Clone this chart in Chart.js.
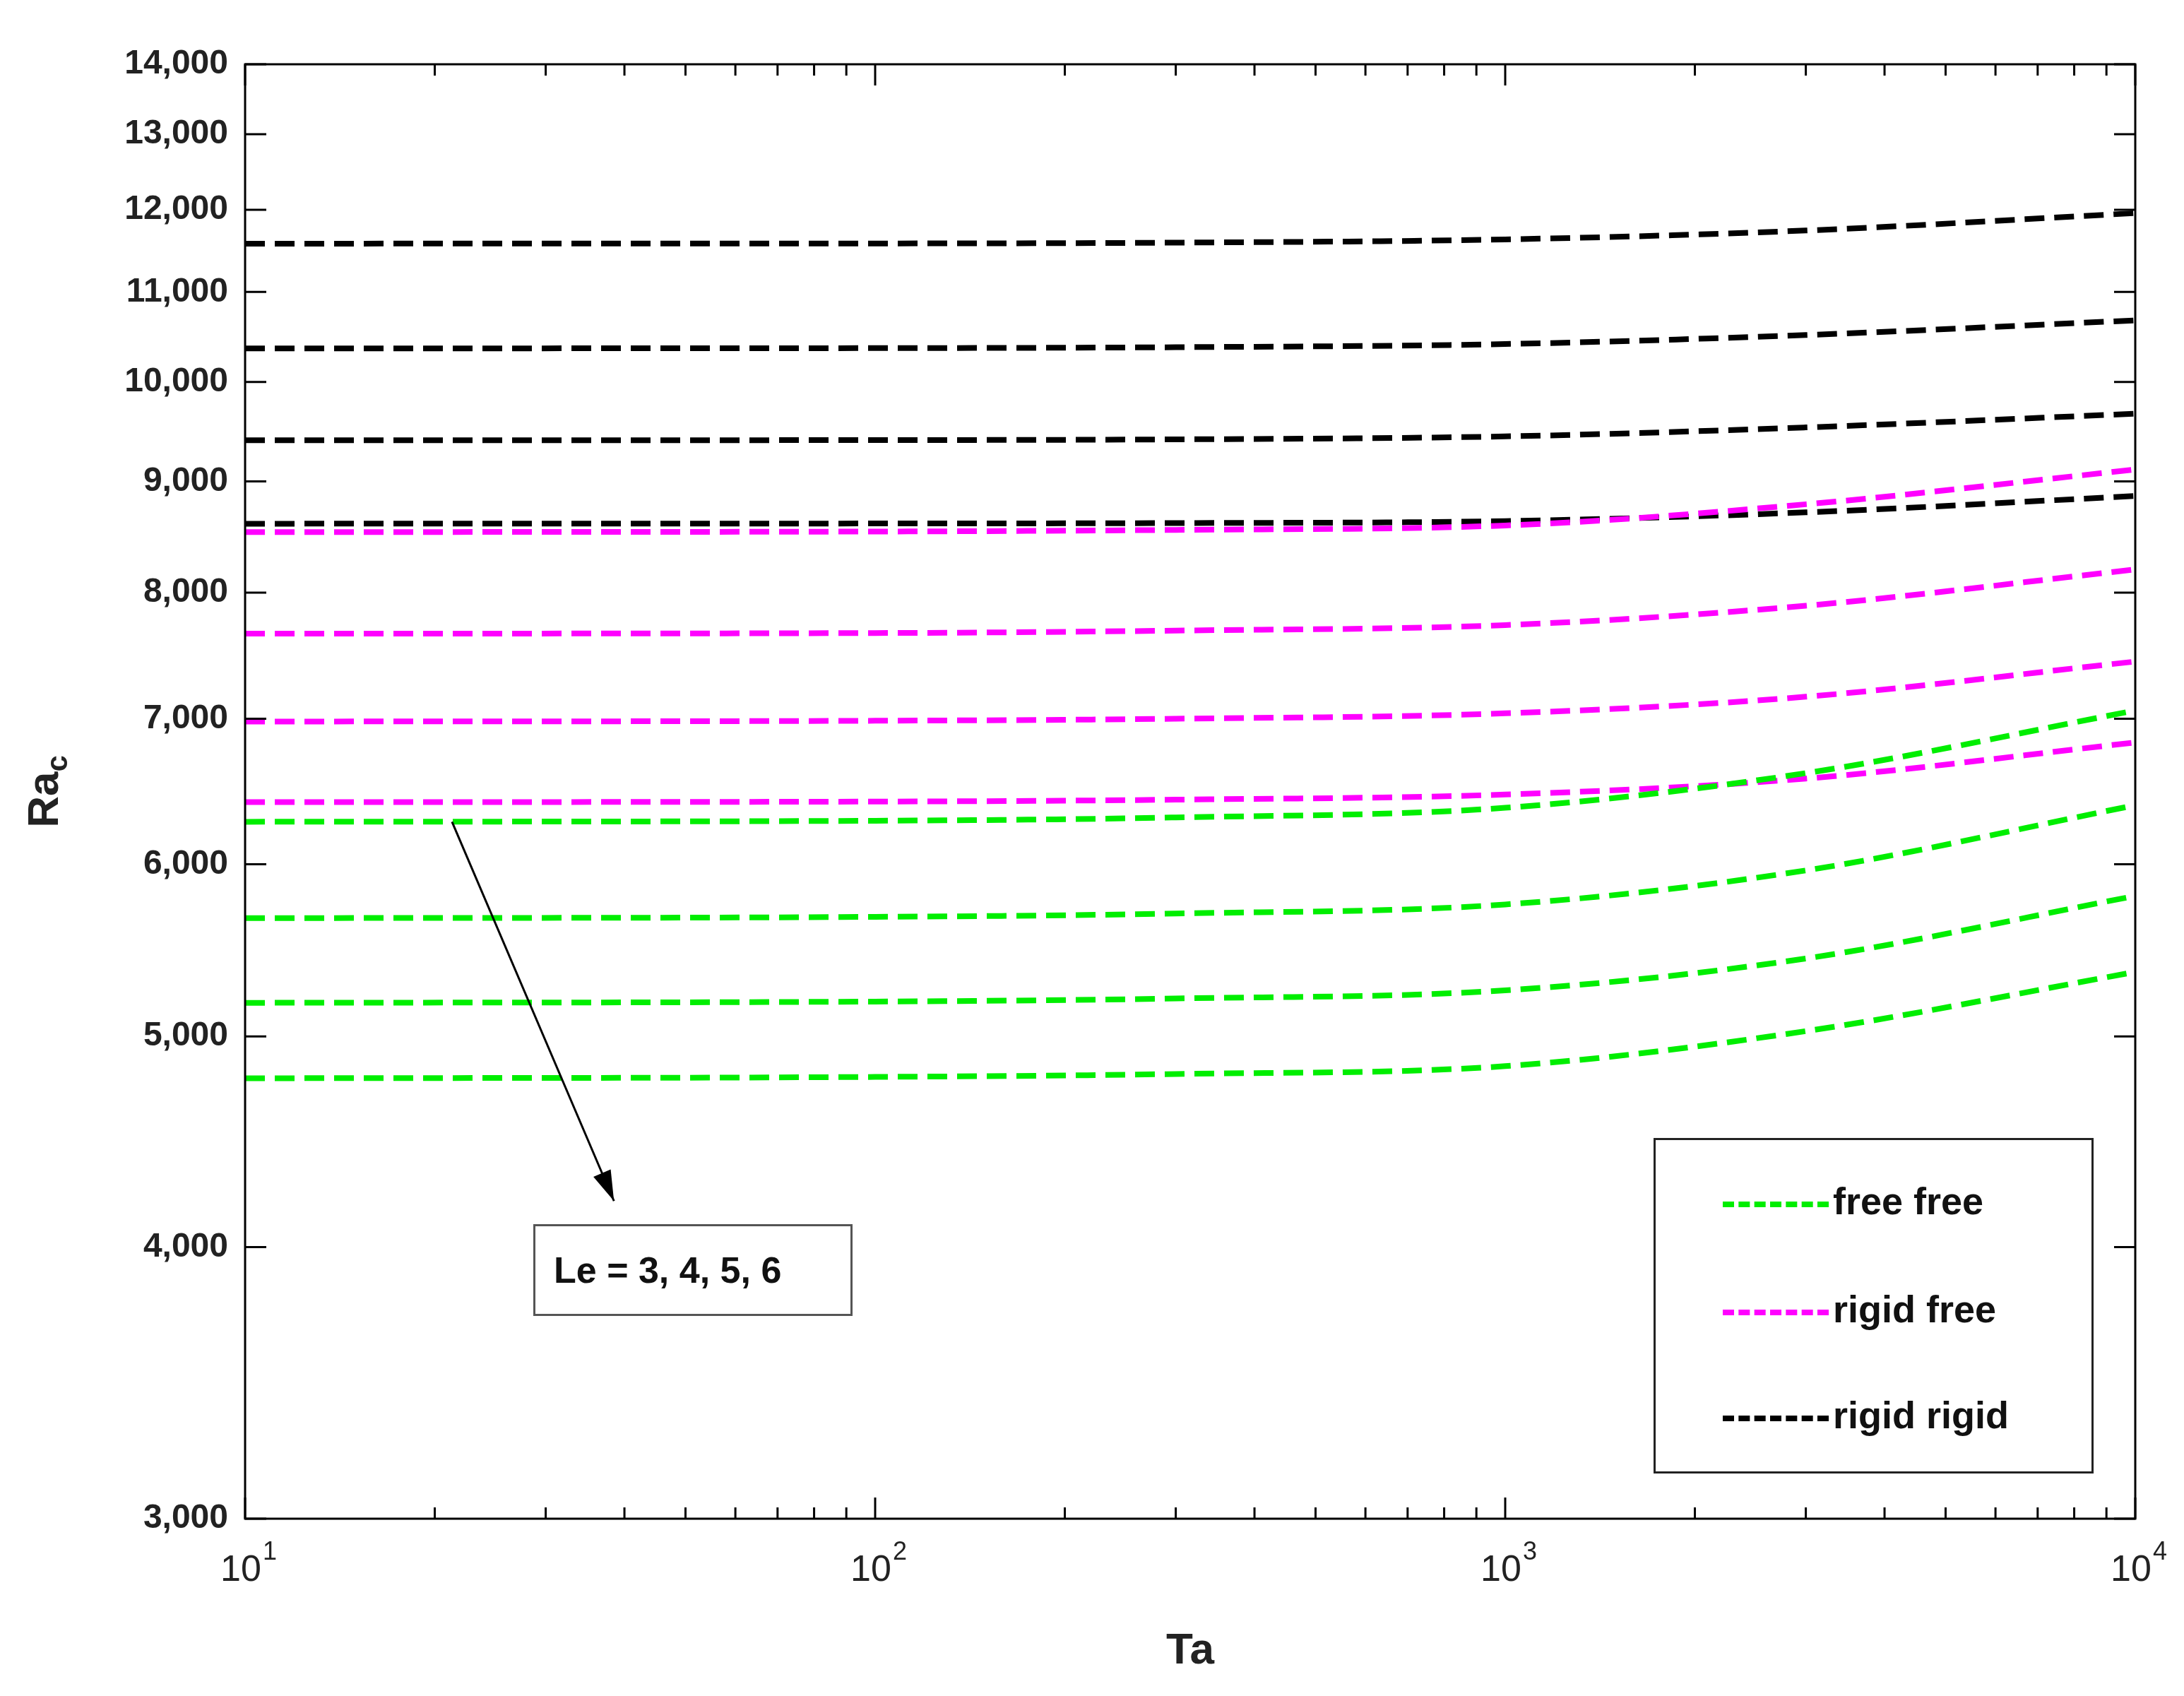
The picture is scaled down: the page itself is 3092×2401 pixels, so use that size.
<!DOCTYPE html>
<html><head><meta charset="utf-8">
<script src="https://cdn.jsdelivr.net/npm/chart.js@4/dist/chart.umd.min.js"></script>
<style>
html,body{margin:0;padding:0;background:#fff;}
#wrap{position:relative;width:3092px;height:2401px;}
.box{position:absolute;border:3px solid #555;background:#fff;font-family:"Liberation Sans",Arial,sans-serif;font-weight:bold;color:#111;}
</style></head><body>
<div id="wrap"><canvas id="c" width="3092" height="2401"></canvas>
<div class="box" style="left:755px;top:1733px;height:130px;font-size:52px;line-height:124px;padding-left:26px;box-sizing:border-box;width:452px;">Le = 3, 4, 5, 6</div>
<div class="box" style="left:2341px;top:1611px;width:617px;height:469px;border-color:#222;">
 <div style="position:absolute;left:95px;top:55px;font-size:54px;"><span style="display:inline-block;width:150px;border-top:8px dashed #00ee00;vertical-align:middle;margin-right:6px"></span>free free</div>
 <div style="position:absolute;left:95px;top:208px;font-size:54px;"><span style="display:inline-block;width:150px;border-top:8px dashed #ff00ff;vertical-align:middle;margin-right:6px"></span>rigid free</div>
 <div style="position:absolute;left:95px;top:358px;font-size:54px;"><span style="display:inline-block;width:150px;border-top:8px dashed #000;vertical-align:middle;margin-right:6px"></span>rigid rigid</div>
</div>
</div>
<script>
const ta = [10, 100, 300, 1000, 3000, 10000];
const yTicks = [3000,4000,5000,6000,7000,8000,9000,10000,11000,12000,13000,14000];
const xTicks = [10,100,1000,10000];
const xExp = ['1','2','3','4'];
const freeFree = [
 [4783,4790,4805,4845,5028,5353],
 [5181,5188,5205,5250,5430,5802],
 [5667,5675,5695,5750,5961,6387],
 [6276,6283,6305,6370,6608,7061]];
const rigidFree = [
 [6408,6412,6425,6460,6570,6826],
 [6979,6985,7000,7040,7165,7437],
 [7660,7665,7685,7730,7890,8199],
 [8530,8535,8550,8590,8785,9114]];
const rigidRigid = [
 [8606,8608,8612,8630,8710,8862],
 [9401,9403,9410,9440,9530,9669],
 [10362,10365,10375,10410,10510,10674],
 [11578,11580,11590,11630,11740,11958]];
const colors = ['#00ee00','#ff00ff','#000000'];
const datasets = [];
[freeFree, rigidFree, rigidRigid].forEach((grp,gi)=>grp.forEach(s=>datasets.push({
  data: ta.map((x,i)=>({x, y:s[i]})), borderColor: colors[gi], borderWidth: 8,
  borderDash:[28,14], pointRadius:0, fill:false, cubicInterpolationMode:'monotone'})));
const F = '"Liberation Sans", Arial, sans-serif';
const deco = {
 id:'deco',
 afterDraw(ch){
  const c=ch.ctx, a=ch.chartArea, xs=ch.scales.x, ys=ch.scales.y;
  c.save(); c.strokeStyle='#000'; c.lineWidth=3;
  c.strokeRect(a.left,a.top,a.right-a.left,a.bottom-a.top);
  c.beginPath();
  yTicks.forEach(v=>{const y=ys.getPixelForValue(v);
    c.moveTo(a.left,y);c.lineTo(a.left+30,y);c.moveTo(a.right,y);c.lineTo(a.right-30,y);});
  for(let d=10; d<=10000; d*=10){
    for(let k=1;k<10;k++){const v=d*k; if(v>10000) break;
      const x=xs.getPixelForValue(v), L=k===1?30:16;
      c.moveTo(x,a.bottom);c.lineTo(x,a.bottom-L);c.moveTo(x,a.top);c.lineTo(x,a.top+L);}
  }
  c.stroke();
  // x tick labels with superscripts
  c.fillStyle='#222'; c.textBaseline='alphabetic';
  xTicks.forEach((v,i)=>{
    const x=xs.getPixelForValue(v);
    c.font='52px '+F; const w=c.measureText('10').width;
    c.font='36px '+F; const w2=c.measureText(xExp[i]).width;
    const x0=x-(w+w2)/2+4;
    c.font='52px '+F; c.textAlign='left'; c.fillText('10',x0,a.bottom+88);
    c.font='36px '+F; c.fillText(xExp[i],x0+w+2,a.bottom+58);
  });
  // arrow
  const x1=xs.getPixelForValue(21.3), y1=ys.getPixelForValue(6276);
  const x2=xs.getPixelForValue(38.5), y2=ys.getPixelForValue(4200);
  c.lineWidth=3; c.beginPath(); c.moveTo(x1,y1); c.lineTo(x2,y2); c.stroke();
  const ang=Math.atan2(y2-y1,x2-x1);
  c.beginPath(); c.moveTo(x2,y2);
  c.lineTo(x2-45*Math.cos(ang-0.3),y2-45*Math.sin(ang-0.3));
  c.lineTo(x2-45*Math.cos(ang+0.3),y2-45*Math.sin(ang+0.3));
  c.closePath(); c.fillStyle='#000'; c.fill();
  // titles
  c.fillStyle='#222'; c.font='bold 62px '+F; c.textAlign='center'; c.textBaseline='middle';
  c.fillText('Ta',(a.left+a.right)/2,2338);
  c.translate(65,(a.top+a.bottom)/2); c.rotate(-Math.PI/2);
  c.textAlign='left'; c.font='bold 62px '+F;
  const w=c.measureText('Ra').width; c.font='bold 42px '+F;
  const w2=c.measureText('c').width; c.font='bold 62px '+F;
  c.fillText('Ra',-(w+w2)/2,0); c.font='bold 42px '+F; c.fillText('c',-(w+w2)/2+w,18);
  c.restore();
 }};
new Chart(document.getElementById('c'),{
 type:'line', data:{datasets},
 options:{responsive:false, animation:false, devicePixelRatio:1,
  layout:{padding:{top:91,right:69}},
  plugins:{legend:{display:false},tooltip:{enabled:false}},
  scales:{
   x:{type:'logarithmic',min:10,max:10000,grid:{display:false},border:{display:false},
     afterBuildTicks:s=>{s.ticks=xTicks.map(v=>({value:v}));},
     afterFit:s=>{s.height=251;},
     ticks:{display:false}},
   y:{type:'logarithmic',min:3000,max:14000,grid:{display:false},border:{display:false},
     afterBuildTicks:s=>{s.ticks=yTicks.map(v=>({value:v}));},
     afterFit:s=>{s.width=347;},
     ticks:{color:'#222',font:{family:F,size:48,weight:'bold'},padding:16,autoSkip:false,
       callback:v=>v.toLocaleString('en-US')}}
  }},
 plugins:[deco]});
</script></body></html>
